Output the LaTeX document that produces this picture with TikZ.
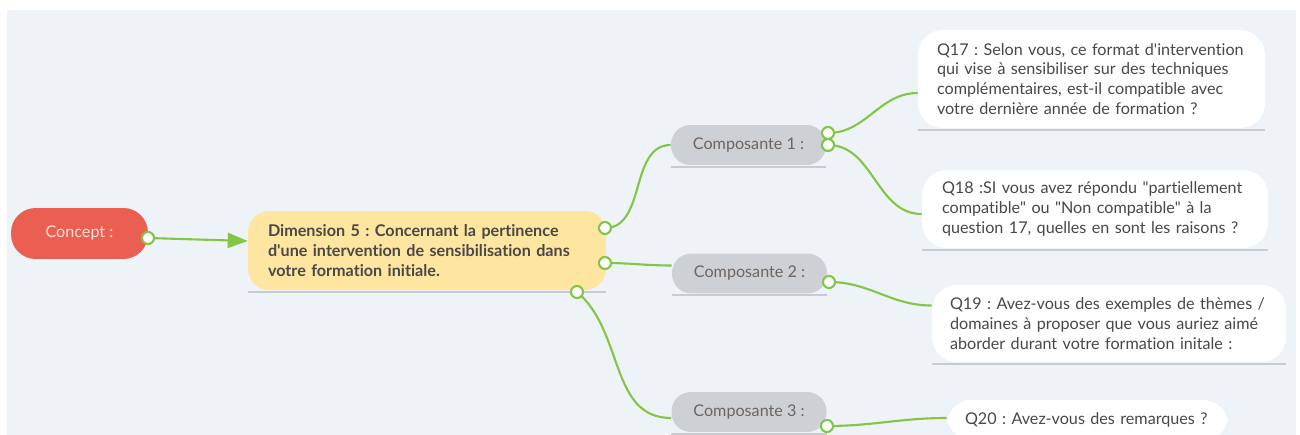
\documentclass[tikz,border=0pt]{standalone}
\usepackage{fontspec}
\setmainfont{Lato}[Ligatures=NoCommon]
\usepackage{xcolor}
\usetikzlibrary{positioning, shapes, arrows.meta, calc}
\definecolor{bgcol}{RGB}{238,243,247}
\definecolor{conceptred}{RGB}{235,94,82}
\definecolor{conceptink}{RGB}{253,226,214}
\definecolor{dimyellow}{RGB}{255,230,160}
\definecolor{compgrey}{RGB}{205,209,213}
\definecolor{compink}{RGB}{112,100,94}
\definecolor{qink}{RGB}{72,72,72}
\definecolor{linkgreen}{RGB}{132,197,72}
\definecolor{shadegrey}{RGB}{200,204,208}
\newcommand{\boxfont}{\fontsize{9.2}{11.3}\selectfont}
\newcommand{\dq}{\textquotedbl}
\newcommand{\sq}{\textquotesingle}
\frenchspacing

\begin{document}
\begin{tikzpicture}[
  x=0.02cm, y=-0.02cm,
  concept/.style={fill=conceptred, rounded corners=14pt, minimum width=2.74cm,
                  minimum height=1.02cm, text=conceptink, font=\boxfont},
  dimbox/.style={fill=dimyellow, rounded corners=12pt, minimum width=7.16cm,
                 minimum height=1.58cm, inner xsep=0.4cm, text width=6.36cm,
                 align=left, text=qink, font=\boxfont\bfseries},
  compbox/.style={fill=compgrey, rounded corners=11pt, minimum width=3.1cm,
                  minimum height=0.8cm, text=compink, font=\boxfont},
  qbox/.style={fill=white, rounded corners=14pt, align=left, text=qink, font=\boxfont},
  link/.style={draw=linkgreen, line width=1.2pt},
  arrow/.style={link, -{Triangle[length=0.4cm, width=0.3cm]}},
  knob/.style={draw=linkgreen, fill=white, line width=1.2pt},
  underline/.style={draw=shadegrey, line width=1.2pt}
]
  \useasboundingbox (0,0) rectangle (1300,435);
  \fill[bgcol] (7,10) rectangle (1296,437);

  % boxes
  \node[concept] (concept) at (79.5,233.5) {Concept :};
  \node[dimbox] (dim) at (427,250.5) {Dimension 5 : Concernant la pertinence\\d\sq une intervention de sensibilisation dans\\votre formation initiale.};
  \node[compbox] (comp1) at (748.5,145) {Composante 1 :};
  \node[compbox] (comp2) at (749.5,273.5) {Composante 2 :};
  \node[compbox] (comp3) at (749,412) {Composante 3 :};
  \node[qbox, minimum width=6.94cm, minimum height=1.96cm, inner xsep=0.38cm, text width=6.18cm] (q17) at (1091.5,79)
    {Q17 : Selon vous, ce format d\sq intervention\\qui vise à sensibiliser sur des techniques\\complémentaires, est-il compatible avec\\votre dernière année de formation ?};
  \node[qbox, minimum width=6.92cm, minimum height=1.56cm, inner xsep=0.4cm, text width=6.12cm] (q18) at (1095,209)
    {Q18 :SI vous avez répondu \dq partiellement\\compatible\dq{} ou \dq Non compatible\dq{} à la\\question 17, quelles en sont les raisons ?};
  \node[qbox, minimum width=7.08cm, minimum height=1.54cm, inner xsep=0.36cm, text width=6.36cm] (q19) at (1109,323.5)
    {Q19 : Avez-vous des exemples de thèmes /\\domaines à proposer que vous auriez aimé\\aborder durant votre formation initale :};
  \node[qbox, minimum width=5.62cm, minimum height=0.8cm, inner xsep=0.36cm, text width=4.9cm] (q20) at (1087.5,420)
    {Q20 : Avez-vous des remarques ?};

  % shadow lines under the boxes
  \foreach \b in {dim, comp1, comp2, comp3, q17, q18, q19}
    \draw[underline] ($(\b.south west)+(0,1.5)$) -- ($(\b.south east)+(0,1.5)$);

  % knob points
  \coordinate (kc) at (148,238);
  \coordinate (kd1) at (605,228);
  \coordinate (kd2) at (605,263);
  \coordinate (kd3) at (577,292);
  \coordinate (kc1a) at (828,133);
  \coordinate (kc1b) at (828,145);
  \coordinate (kc2) at (829,282);
  \coordinate (kc3) at (827,426);

  % connectors
  \draw[arrow] (kc) -- ($(dim.west)+(0,-9.5)$);
  \draw[link] (kd1) to[out=0, in=180] (comp1.west);
  \draw[link] (kd2) to[out=0, in=180] ($(comp2.west)+(0,-8)$);
  \draw[link] (kd3) to[out=-40, in=180] ($(comp3.west)+(0,6)$);
  \draw[link] (kc1a) to[out=0, in=180] ($(q17.west)+(0,14)$);
  \draw[link] (kc1b) to[out=0, in=180] ($(q18.west)+(0,5)$);
  \draw[link] (kc2) to[out=0, in=180] ($(q19.west)+(0,-18)$);
  \draw[link] (kc3) to[out=0, in=180] ($(q20.west)+(0,-2)$);

  \foreach \k in {kc, kd1, kd2, kd3, kc1a, kc1b, kc2, kc3}
    \draw[knob] (\k) circle[radius=6];
\end{tikzpicture}
\end{document}
